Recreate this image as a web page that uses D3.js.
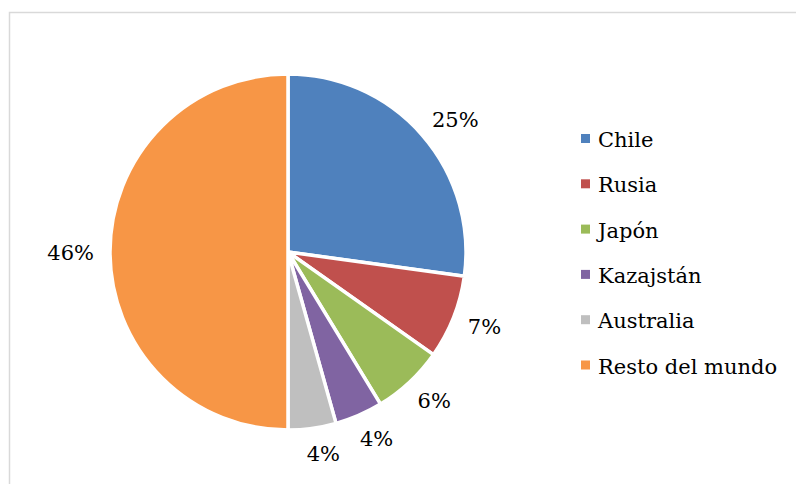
<!DOCTYPE html>
<html>
<head>
<meta charset="utf-8">
<script src="https://cdn.jsdelivr.net/npm/d3@7"></script>
<style>
  html, body { margin: 0; padding: 0; background: #ffffff; }
  svg { display: block; }
</style>
</head>
<body>
<svg id="chart" width="796" height="484"></svg>
<script>
const categories = ["Chile", "Rusia", "Japón", "Kazajstán", "Australia", "Resto del mundo"];
const values = [25, 7, 6, 4, 4, 46];
const labels = ["25%", "7%", "6%", "4%", "4%", "46%"];
const colors = ["#4F81BD", "#C0504D", "#9BBB59", "#8064A2", "#BFBFBF", "#F79646"];

const FONT = "'DejaVu Serif', serif";

const svg = d3.select("#chart");
const W = 796, H = 484;

svg.append("path")
  .attr("d", `M9.5,${H} L9.5,12.5 L${W},12.5`)
  .attr("fill", "none")
  .attr("stroke", "#d9d9d9")
  .attr("stroke-width", 1.5);

const cx = 288, cy = 252, r = 178;
const fontSize = 21;

const color = d3.scaleOrdinal().domain(categories).range(colors);

const pie = d3.pie().sort(null).value(d => d.value);
const data = categories.map((c, i) => ({ cat: c, value: values[i], label: labels[i] }));
const arcs = pie(data);

const arc = d3.arc().innerRadius(0).outerRadius(r);

const g = svg.append("g").attr("transform", `translate(${cx},${cy})`);

g.selectAll("path.slice")
  .data(arcs)
  .join("path")
  .attr("class", "slice")
  .attr("d", arc)
  .attr("fill", d => color(d.data.cat))
  .attr("stroke", "#ffffff")
  .attr("stroke-width", 3.5)
  .attr("stroke-linejoin", "round");

const lbl = g.selectAll("text.lbl")
  .data(arcs)
  .join("text")
  .attr("class", "lbl")
  .attr("text-anchor", "middle")
  .attr("font-family", FONT)
  .attr("font-size", fontSize)
  .attr("fill", "#000")
  .text(d => d.data.label);

lbl.each(function(d) {
  const w = this.getComputedTextLength();
  const a = (d.startAngle + d.endAngle) / 2;
  const s = Math.sin(a), c = Math.cos(a);
  const R = r + 25;
  const x = R * s + Math.sign(s) * Math.max(0, w / 2 - 9);
  const y = -R * c;
  d3.select(this).attr("x", x).attr("y", y + 8);
});

const legendX = 581, legendY0 = 147, legendStep = 45.3;
const lg = svg.append("g");
const items = lg.selectAll("g.item")
  .data(categories)
  .join("g")
  .attr("class", "item")
  .attr("transform", (d, i) => `translate(${legendX},${legendY0 + i * legendStep})`);

items.append("rect")
  .attr("x", 0)
  .attr("y", -13)
  .attr("width", 9)
  .attr("height", 9)
  .attr("fill", d => color(d));

items.append("text")
  .attr("x", 17)
  .attr("y", 0)
  .attr("font-family", FONT)
  .attr("font-size", fontSize)
  .attr("fill", "#000")
  .text(d => d);
</script>
</body>
</html>
